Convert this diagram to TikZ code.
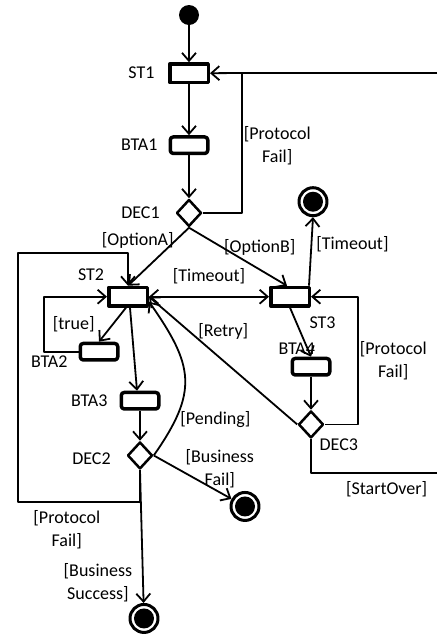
\documentclass[tikz,border=0pt]{standalone}
\usepackage{fontspec}
\setmainfont{Carlito}
\usetikzlibrary{positioning,shapes.geometric,arrows.meta}

\tikzset{
  stbox/.style={rectangle, draw, line width=3.5pt, minimum width=38.5pt, minimum height=18.5pt, inner sep=0pt},
  btabox/.style={rectangle, draw, rounded corners=3pt, line width=3.5pt, minimum width=37.5pt, minimum height=16.5pt, inner sep=0pt},
  decision/.style={diamond, draw, line width=2.5pt, minimum width=25pt, minimum height=27pt, inner sep=0pt},
  initial/.style={circle, fill=black, minimum size=20pt, inner sep=0pt},
  final/.style={circle, draw, line width=3pt, minimum size=28pt, inner sep=0pt,
    path picture={\fill (path picture bounding box.center) circle (10pt);}},
  flow/.style={line width=1.8pt, -{Straight Barb[length=8pt, width=14pt]}},
  twoway/.style={line width=1.8pt, {Straight Barb[length=8pt, width=14pt]}-{Straight Barb[length=8pt, width=14pt]}},
  plain/.style={line width=1.8pt},
  guard/.style={inner sep=1pt, align=center}
}

\begin{document}
\begin{tikzpicture}[x=1pt, y=1pt, font=\fontsize{18}{23}\selectfont, line join=round]
  \useasboundingbox (0,0) rectangle (437,-638);
  % Define nodes
  \node[initial] (init) at (189,-15) {};
  \node[stbox, below=37pt of init, label={[label distance=10pt]left:ST1}] (st1) {};
  \node[btabox, below=51pt of st1, label={[label distance=7.5pt]left:BTA1}] (bta1) {};
  \node[decision, below=43pt of bta1, label={[label distance=12pt]left:DEC1}] (dec1) {};
  \node[stbox, below=58pt of dec1, xshift=-61pt, label={[label distance=2pt, xshift=-8pt]above left:ST2}] (st2) {};
  \node[stbox, right=120pt of st2, label={[xshift=5pt, yshift=-6pt]below right:ST3}] (st3) {};
  \node[btabox, below=34pt of st2, xshift=-29pt, label={[label distance=7.5pt, yshift=-10pt]left:BTA2}] (bta2) {};
  \node[btabox, below=83pt of st2, xshift=12pt, label={[label distance=8.5pt]left:BTA3}] (bta3) {};
  \node[decision, below=30pt of bta3, label={[label distance=12pt, yshift=-3pt]left:DEC2}] (dec2) {};
  \node[btabox, below=49pt of st3, xshift=21pt, label={[xshift=17.5pt, yshift=-1pt]above left:BTA4}] (bta4) {};
  \node[decision, below=33pt of bta4, label={[xshift=-2pt, yshift=-4pt]below right:DEC3}] (dec3) {};
  \node[final, above=68.5pt of st3, xshift=23pt] (fin1) {};
  \node[final, right=75.75pt of dec2, yshift=-51pt] (fin2) {};
  \node[final, below=132.75pt of dec2, xshift=4pt] (fin3) {};

  % Define edges
  \coordinate (pf1) at (242,-73);
  \coordinate (so1) at (437,-473);
  \coordinate (so2) at (437,-73);
  \coordinate (pf2) at (18,-502);
  \coordinate (pf3) at (18,-253);
  \draw[flow] (init) -- (st1);
  \draw[flow] (st1) -- (bta1);
  \draw[flow] (bta1) -- (dec1);
  \draw[flow] (dec1.east) -| node[guard, pos=0.74, right] {[Protocol\\Fail]} (pf1) -- (st1.east);
  \draw[plain] (so2) -- (pf1);
  \draw[flow] (dec1.south) -- node[guard, pos=0.22, left] {[OptionA]} (st2.north);
  \draw[flow] (dec1.south) -- node[guard, pos=0.34, right] {[OptionB]} ([xshift=-3pt]st3.north);
  \draw[flow] ([xshift=-2pt]st3.north east) -- node[guard, pos=0.6, right=3pt] {[Timeout]} (fin1.south);
  \draw[twoway] (st2.east) -- node[guard, above=11pt] {[Timeout]} (st3.west);
  \draw[flow] (bta2.west) -| node[guard, pos=0.75, right=7pt] {[true]} ([xshift=-63pt]st2.west) -- (st2.west);
  \draw[flow] ([xshift=-2pt]st2.south) -- (bta2.north);
  \draw[flow] ([xshift=2pt]st2.south) -- ([xshift=-3pt]bta3.north);
  \draw[flow] (bta3) -- (dec2);
  \draw[flow] (dec2.east) to[out=55, in=-55, looseness=1.3] node[guard, pos=0.21, right=3pt] {[Pending]} ([yshift=-5pt]st2.east);
  \draw[flow] (dec3.west) -- node[guard, pos=0.68, above right, yshift=-4pt] {[Retry]} (st2.east);
  \draw[flow] (st3.south) -- (bta4.north);
  \draw[flow] (bta4) -- (dec3);
  \draw[flow] (dec3.east) -| node[guard, pos=0.75, right] {[Protocol\\Fail]} ([xshift=47pt]st3.east) -- (st3.east);
  \draw[plain] (dec3.south) |- node[guard, pos=0.8, below=7pt] {[StartOver]} (so1);
  \draw[flow] (dec2.south) |- node[guard, pos=0.8, below=7pt] {[Protocol\\Fail]} (pf2) -- (pf3) -| (st2.north);
  \draw[flow] (dec2.east) -- node[guard, pos=0.85, above=3pt] {[Business\\Fail]} (fin2);
  \draw[flow] (dec2.south) -- node[guard, pos=0.85, left=9pt] {[Business\\Success]} (fin3);
\end{tikzpicture}
\end{document}
